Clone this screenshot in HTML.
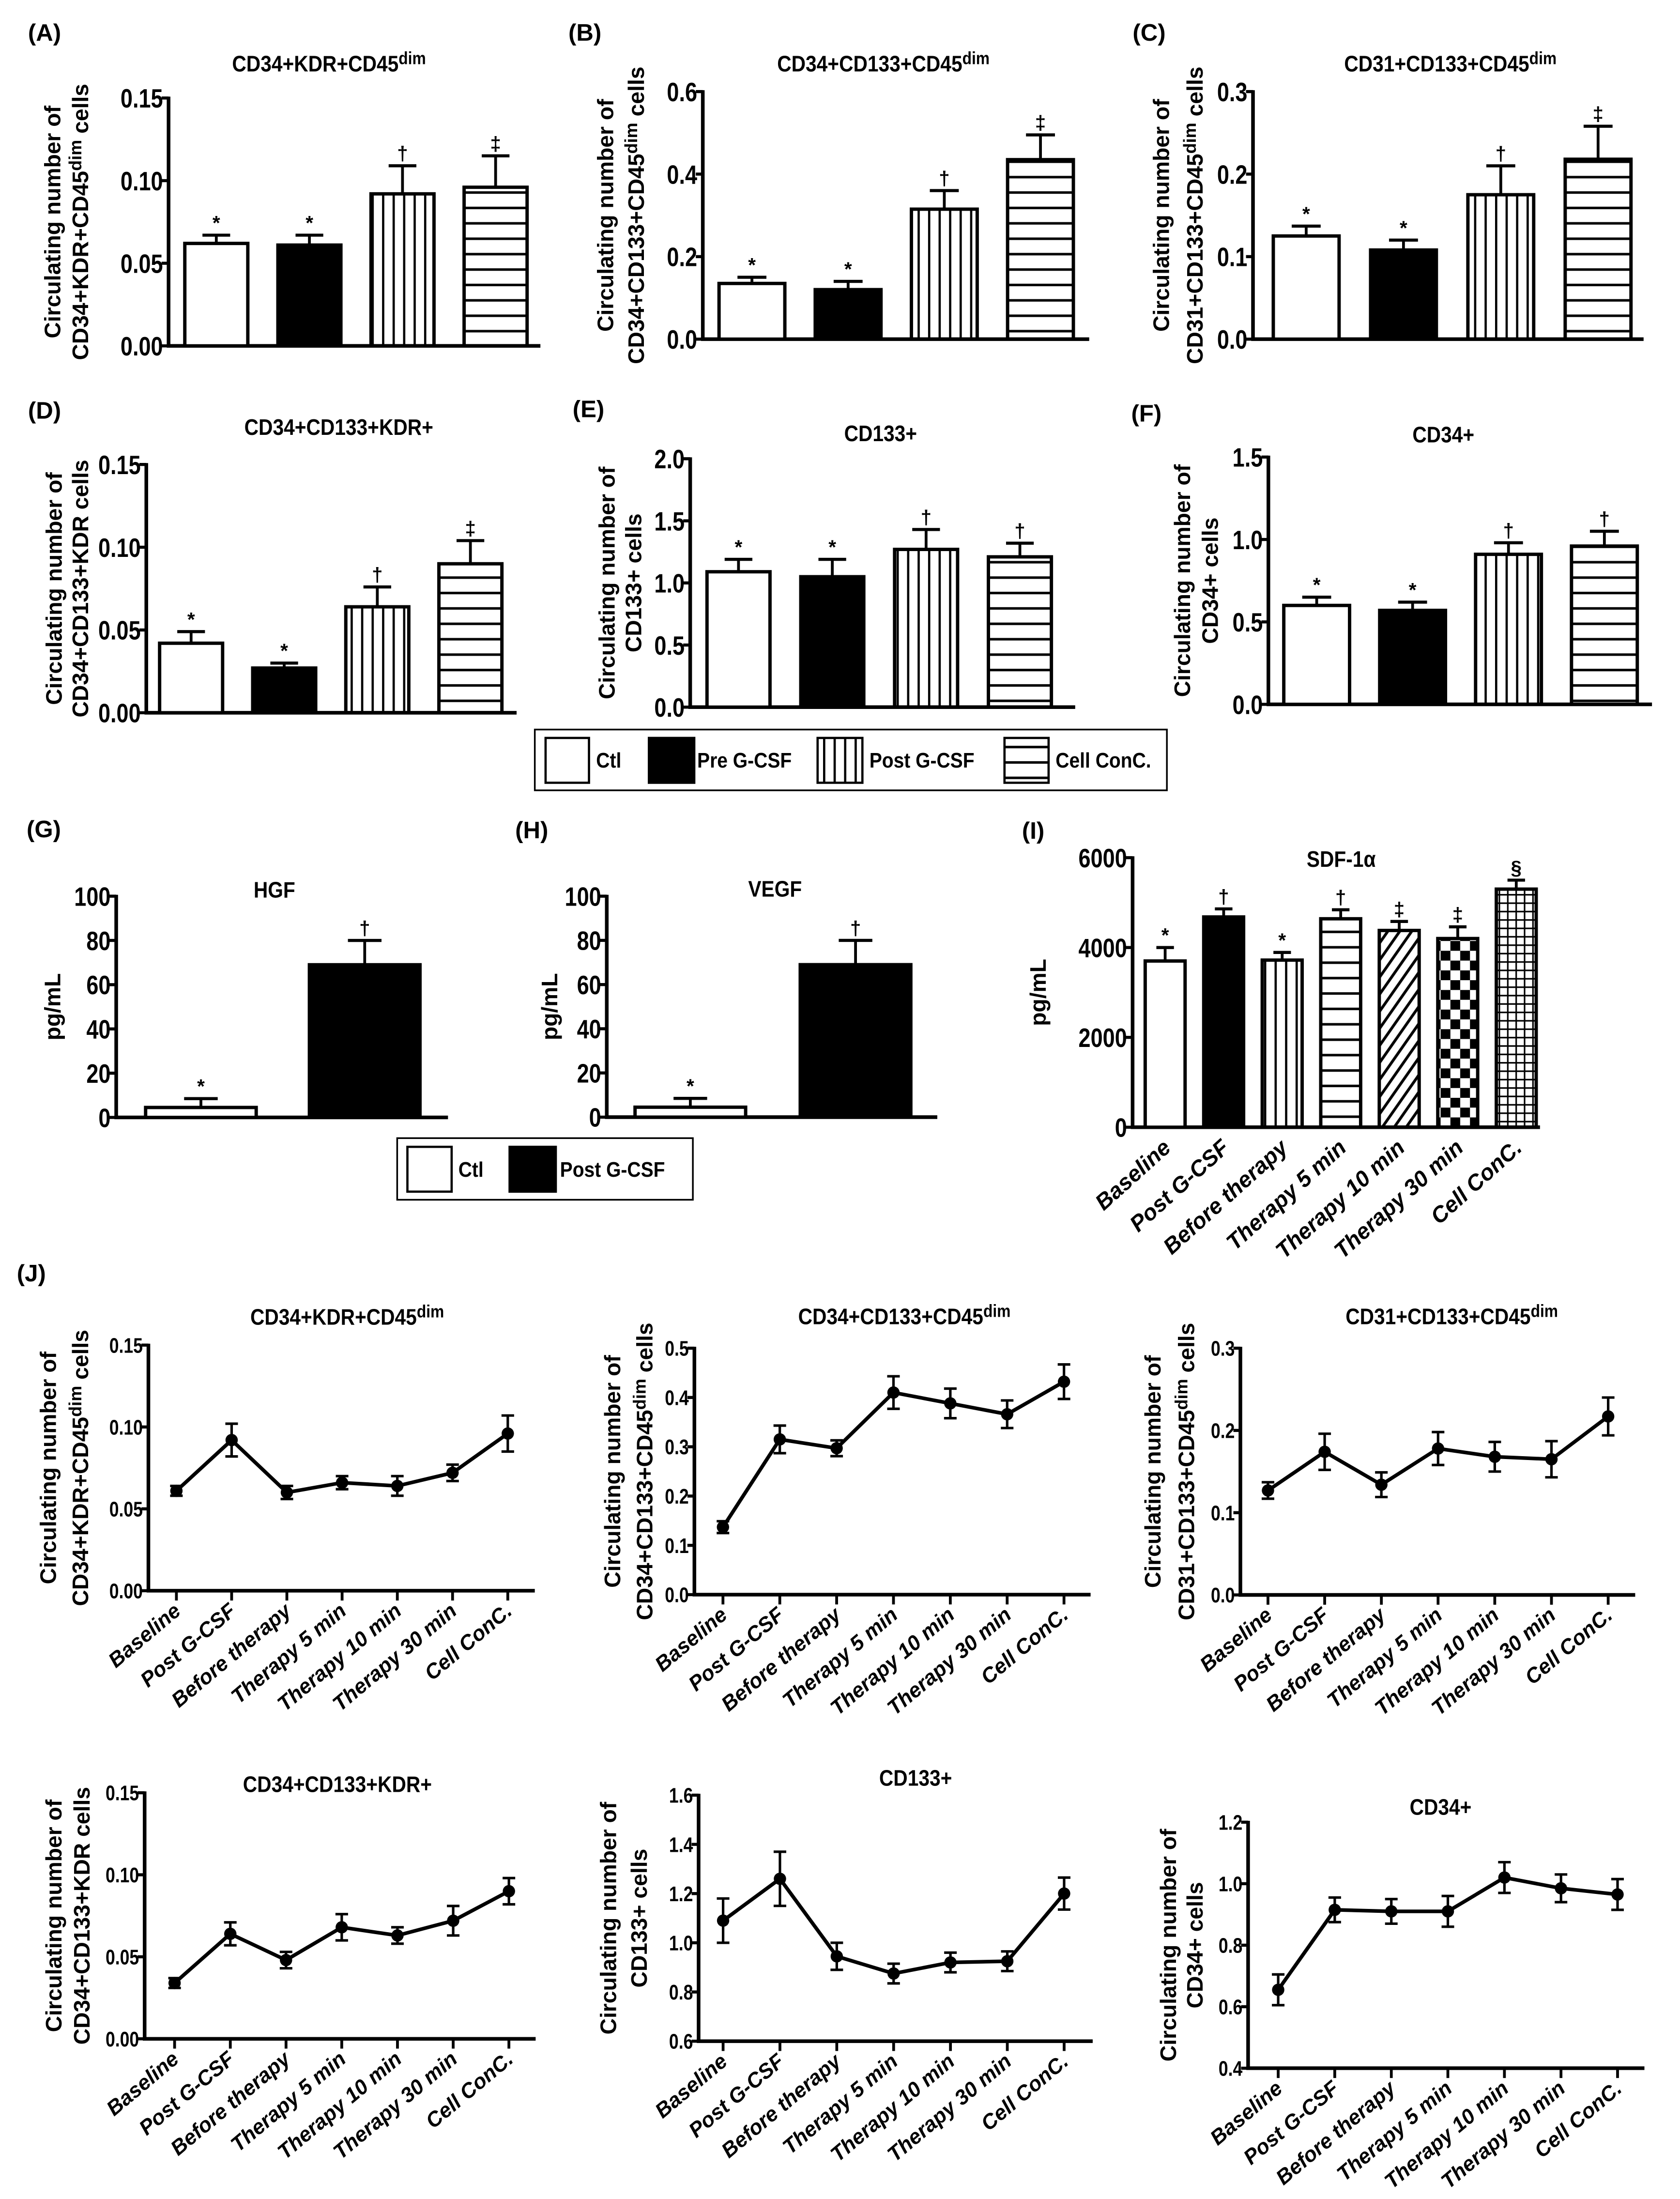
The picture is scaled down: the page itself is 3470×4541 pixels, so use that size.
<!DOCTYPE html>
<html><head><meta charset="utf-8"><style>
html,body{margin:0;padding:0;background:#fff}
svg{display:block}
text{font-family:"Liberation Sans",Arial,sans-serif;font-weight:bold;fill:#000}
</style></head><body>
<svg id="fig" xmlns="http://www.w3.org/2000/svg" width="3470" height="4541" viewBox="0 0 1200 1570.4">
<defs>
<pattern id="p-vert" patternUnits="userSpaceOnUse" width="7.5" height="10"><line x1="3.7" y1="0" x2="3.7" y2="10" stroke="#000" stroke-width="1.6"/></pattern>
<pattern id="p-hor" patternUnits="userSpaceOnUse" width="10" height="11"><line x1="0" y1="5.5" x2="10" y2="5.5" stroke="#000" stroke-width="1.8"/></pattern>
<pattern id="p-diag" patternUnits="userSpaceOnUse" width="7" height="7" patternTransform="rotate(35)"><line x1="3.5" y1="0" x2="3.5" y2="7" stroke="#000" stroke-width="2"/></pattern>
<pattern id="p-check" patternUnits="userSpaceOnUse" width="14" height="14"><rect width="7" height="7" fill="#000"/><rect x="7" y="7" width="7" height="7" fill="#000"/></pattern>
<pattern id="p-grid" patternUnits="userSpaceOnUse" width="6" height="6"><path d="M3 0V6M0 3H6" stroke="#000" stroke-width="1.1" fill="none"/></pattern>
</defs>
<g id="root"></g>
</svg>
<script>
// ---------- data ----------
const groups4 = ["Ctl","Pre G-CSF","Post G-CSF","Cell ConC."];
const timeCats = ["Baseline","Post G-CSF","Before therapy","Therapy 5 min","Therapy 10 min","Therapy 30 min","Cell ConC."];
const aVals=[0.062,0.061,0.092,0.096], aErrs=[0.005,0.006,0.017,0.019], aMarks=["*","*","†","‡"];
const bVals=[0.135,0.12,0.315,0.435], bErrs=[0.015,0.02,0.045,0.06], bMarks=["*","*","†","‡"];
const cVals=[0.125,0.108,0.175,0.218], cErrs=[0.012,0.012,0.035,0.04], cMarks=["*","*","†","‡"];
const dVals=[0.042,0.027,0.064,0.090], dErrs=[0.007,0.003,0.012,0.014], dMarks=["*","*","†","‡"];
const eVals=[1.09,1.05,1.27,1.21], eErrs=[0.1,0.14,0.16,0.11], eMarks=["*","*","†","†"];
const fVals=[0.60,0.57,0.91,0.96], fErrs=[0.05,0.05,0.07,0.09], fMarks=["*","*","†","†"];
const gVals=[4.5,69], gErrs=[4,11], gMarks=["*","†"];
const hVals=[4.5,69], hErrs=[4,11], hMarks=["*","†"];
const iVals=[3700,4680,3720,4640,4380,4200,5300], iErrs=[300,180,170,200,200,260,200], iMarks=["*","†","*","†","‡","‡","§"];
const j1Vals=[0.061,0.092,0.060,0.066,0.064,0.072,0.096], j1Errs=[0.003,0.010,0.004,0.004,0.006,0.005,0.011];
const j2Vals=[0.137,0.315,0.297,0.41,0.388,0.366,0.432], j2Errs=[0.012,0.028,0.016,0.033,0.03,0.028,0.035];
const j3Vals=[0.127,0.174,0.134,0.178,0.168,0.165,0.217], j3Errs=[0.01,0.022,0.015,0.02,0.018,0.022,0.023];
const j4Vals=[0.034,0.064,0.048,0.068,0.063,0.072,0.090], j4Errs=[0.003,0.007,0.005,0.008,0.005,0.009,0.008];
const j5Vals=[1.09,1.26,0.945,0.875,0.92,0.925,1.2], j5Errs=[0.09,0.11,0.055,0.04,0.04,0.04,0.065];
const j6Vals=[0.655,0.915,0.91,0.91,1.02,0.985,0.965], j6Errs=[0.05,0.04,0.04,0.05,0.05,0.045,0.05];
const ticksA=[0,0.05,0.10,0.15], ticksB=[0,0.2,0.4,0.6], ticksC=[0,0.1,0.2,0.3];
const ticksE=[0,0.5,1.0,1.5,2.0], ticksF=[0,0.5,1.0,1.5], ticksG=[0,20,40,60,80,100], ticksI=[0,2000,4000,6000];
const ticksJ2=[0,0.1,0.2,0.3,0.4,0.5], ticksJ5=[0.6,0.8,1.0,1.2,1.4,1.6], ticksJ6=[0.4,0.6,0.8,1.0,1.2];

// ---------- helpers ----------
const NS="http://www.w3.org/2000/svg";
const root=document.getElementById('root');
function mk(tag,attrs,parent){const e=document.createElementNS(NS,tag);for(const k in attrs)e.setAttribute(k,attrs[k]);(parent||root).appendChild(e);return e;}
function txt(x,y,s,size,parent,anchor,extra){const t=mk('text',Object.assign({x:x,y:y,'font-size':size,'text-anchor':anchor||'middle'},extra||{}),parent);t.textContent=s;return t;}
function richText(x,y,parts,size,parent,attrs){
  const t=mk('text',Object.assign({x:x,y:y,'font-size':size,'text-anchor':'middle'},attrs||{}),parent);
  parts.forEach(p=>{const ts=mk('tspan',{},t);ts.textContent=p.s;if(p.sup){ts.setAttribute('baseline-shift','40%');ts.setAttribute('font-size',size*0.78);}});
  return t;}
const fills=["#fff","#000","url(#p-vert)","url(#p-hor)"];
const fillsI=["#fff","#000","url(#p-vert)","url(#p-hor)","url(#p-diag)","url(#p-check)","url(#p-grid)"];

function yAxis(g,o,ticks){
  const sc=v=>o.y0-(v-o.min)/(o.max-o.min)*(o.y0-o.yt);
  const ax=mk('line',{x1:o.ax,y1:o.yt-1,x2:o.ax,y2:o.y0,stroke:'#000','stroke-width':2.6},g);
  
  
  const xl=mk('line',{x1:o.ax-1.3,y1:o.y0,x2:o.xEnd,y2:o.y0,stroke:'#000','stroke-width':2.6},g);
  
  
  const fs=o.tfs||19;
  ticks.forEach(v=>{
    const y=sc(v);
    mk('line',{x1:o.ax-5,y1:y,x2:o.ax,y2:y,stroke:'#000','stroke-width':2.2},g);
    const t=txt(o.ax-4,y+fs*0.36,v.toFixed(o.dec),fs,g,'end',{transform:`translate(${o.ax-4},${y}) scale(0.82,1) translate(${-(o.ax-4)},${-y})`});
    
    
  });
  return sc;
}
function ylabel(g,o){
  const cy=(o.y0+o.yt)/2;
  o.lab.forEach((parts,i)=>{
    const x=o.lx[i]+6;
    const t=richText(x,cy,parts,16,g,{transform:`rotate(-90 ${x} ${cy})`});
    
    
  });
}
function title(g,o){
  const t=richText(o.tx,o.ty,o.title,16,g,{transform:`translate(${o.tx},${o.ty}) scale(0.88,1) translate(${-o.tx},${-o.ty})`});
  
  
  if(o.pl){const p=txt(o.pl[0],o.pl[1],o.pl[2],17,g,'start');}
}
function barChart(o,vals,errs,marks,ticks,fl){
  const g=mk('g',{});
  
  
  title(g,o);ylabel(g,o);
  const sc=yAxis(g,o,ticks);
  vals.forEach((v,i)=>{
    const x=o.bx+i*o.step, y=sc(v), top=sc(v+errs[i]);
    const cx=x+o.bw/2;
    mk('line',{x1:cx,y1:y,x2:cx,y2:top,stroke:'#000','stroke-width':2},g);
    mk('line',{x1:cx-Math.min(o.bw*0.22,12),y1:top,x2:cx+Math.min(o.bw*0.22,12),y2:top,stroke:'#000','stroke-width':2.2},g);
    const r=mk('rect',{x:x,y:y,width:o.bw,height:o.y0-y,fill:fl[i],stroke:'#000','stroke-width':2.4},g);
    
    
    const m=txt(cx,top-4,marks[i],14,g,'middle',{'font-weight':'normal'});
    
    
    if(o.xlab){
      const lx=cx+5,ly=o.y0+16;
      const t=txt(lx,ly,o.cats[i],16,g,'end',{transform:`rotate(-42 ${lx} ${ly})`,'font-style':'italic'});
      
      
    }
  });
}
function lineChart(o,vals,errs,ticks){
  const g=mk('g',{});
  
  
  title(g,o);ylabel(g,o);
  const sc=yAxis(g,o,ticks);
  let d='';
  vals.forEach((v,i)=>{const x=o.px+i*o.step;d+=(i?'L':'M')+x+' '+sc(v);});
  const pl=mk('path',{d:d,fill:'none',stroke:'#000','stroke-width':2.6},g);
  
  
  vals.forEach((v,i)=>{
    const x=o.px+i*o.step,y=sc(v),t1=sc(v+errs[i]),t2=sc(v-errs[i]);
    mk('line',{x1:x,y1:o.y0,x2:x,y2:o.y0+7,stroke:'#000','stroke-width':2},g);
    mk('path',{d:`M${x} ${t1}V${t2}M${x-4.5} ${t1}H${x+4.5}M${x-4.5} ${t2}H${x+4.5}`,stroke:'#000','stroke-width':1.8,fill:'none'},g);
    const c=mk('circle',{cx:x,cy:y,r:4.4,fill:'#000'},g);
    
    
    const lx=x+4,ly=o.y0+16;
    const t=txt(lx,ly,timeCats[i],15,g,'end',{transform:`rotate(-40 ${lx} ${ly})`,'font-style':'italic'});
    
    
  });
}
function legend(x,y,w,h,sy,sh,items){
  const g=mk('g',{});
  
  
  mk('rect',{x:x,y:y,width:w,height:h,fill:'#fff',stroke:'#000','stroke-width':1.2},g);
  items.forEach(it=>{
    const r=mk('rect',{x:it.sx,y:sy,width:it.sw,height:sh,fill:it.f,stroke:'#000','stroke-width':1.6},g);
    
    
    const t=txt(it.tx,y+h/2+5.5,it.t,15,g,'start',{transform:`translate(${it.tx},0) scale(0.9,1) translate(${-it.tx},0)`});
    
    
  });
}
const S=s=>({s:s}),U=s=>({s:s,sup:true});
const labC=[S("Circulating number of")];

barChart({name:'panel-a',ax:120.4,y0:247,yt:70,min:0,max:0.15,dec:2,bx:132,bw:45,step:66.5,xEnd:386,tx:235,ty:51,cats:groups4,
  title:[S("CD34+KDR+CD45"),U("dim")],pl:[20,29,"(A)"],lab:[labC,[S("CD34+KDR+CD45"),U("dim"),S(" cells")]],lx:[37,57]},aVals,aErrs,aMarks,ticksA,fills);
barChart({name:'panel-b',ax:502,y0:242.2,yt:65.4,min:0,max:0.6,dec:1,bx:513.6,bw:47,step:68.7,xEnd:778,tx:631,ty:51,cats:groups4,
  title:[S("CD34+CD133+CD45"),U("dim")],pl:[406,29,"(B)"],lab:[labC,[S("CD34+CD133+CD45"),U("dim"),S(" cells")]],lx:[432,454]},bVals,bErrs,bMarks,ticksB,fills);
barChart({name:'panel-c',ax:895,y0:242.2,yt:65.4,min:0,max:0.3,dec:1,bx:909.5,bw:47,step:69.5,xEnd:1174,tx:1036,ty:51,cats:groups4,
  title:[S("CD31+CD133+CD45"),U("dim")],pl:[809,29,"(C)"],lab:[labC,[S("CD31+CD133+CD45"),U("dim"),S(" cells")]],lx:[829,853]},cVals,cErrs,cMarks,ticksC,fills);
barChart({name:'panel-d',ax:104.5,y0:509,yt:331.7,min:0,max:0.15,dec:2,bx:114,bw:45,step:66.5,xEnd:369,tx:242,ty:310.5,cats:groups4,
  title:[S("CD34+CD133+KDR+")],pl:[20,299,"(D)"],lab:[labC,[S("CD34+CD133+KDR cells")]],lx:[38,57]},dVals,dErrs,dMarks,ticksA,fills);
barChart({name:'panel-e',ax:493,y0:505,yt:327.6,min:0,max:2,dec:1,bx:505,bw:45,step:67,xEnd:768,tx:629,ty:315,cats:groups4,
  title:[S("CD133+")],pl:[409,298,"(E)"],lab:[labC,[S("CD133+ cells")]],lx:[433,452]},eVals,eErrs,eMarks,ticksE,fills);
barChart({name:'panel-f',ax:906,y0:503,yt:326.4,min:0,max:1.5,dec:1,bx:917,bw:47,step:68.5,xEnd:1180,tx:1031,ty:316,cats:groups4,
  title:[S("CD34+")],pl:[808,301,"(F)"],lab:[labC,[S("CD34+ cells")]],lx:[844,864]},fVals,fErrs,fMarks,ticksF,fills);
legend(382,521,451.5,43.4,527,32,[{sx:389.7,sw:31,f:'#fff',tx:425.8,t:'Ctl'},{sx:463.5,sw:32.4,f:'#000',tx:498,t:'Pre G-CSF'},{sx:584,sw:32,f:'url(#p-vert)',tx:621,t:'Post G-CSF'},{sx:717.5,sw:31.5,f:'url(#p-hor)',tx:754,t:'Cell ConC.'}]);
barChart({name:'panel-g',ax:83,y0:798,yt:640,min:0,max:100,dec:0,bx:104,bw:79,step:117,xEnd:320,tx:196,ty:641,cats:["Ctl","Post G-CSF"],
  title:[S("HGF")],pl:[19,598,"(G)"],lab:[[S("pg/mL")]],lx:[37]},gVals,gErrs,gMarks,ticksG,["#fff","#000"]);
barChart({name:'panel-h',ax:433.4,y0:797.8,yt:640,min:0,max:100,dec:0,bx:453.6,bw:79,step:118,xEnd:669.5,tx:553.6,ty:640.3,cats:["Ctl","Post G-CSF"],
  title:[S("VEGF")],pl:[368,598.6,"(H)"],lab:[[S("pg/mL")]],lx:[392]},hVals,hErrs,hMarks,ticksG,["#fff","#000"]);
legend(283.7,812.8,211.2,44,819,32,[{sx:291,sw:31.6,f:'#fff',tx:327.4,t:'Ctl'},{sx:364,sw:33,f:'#000',tx:400,t:'Post G-CSF'}]);
barChart({name:'panel-i',ax:809,y0:805,yt:612.5,min:0,max:6000,dec:0,bx:818,bw:28.5,step:41.8,xEnd:1100,tx:958,ty:619,cats:timeCats,xlab:true,
  title:[S("SDF-1α")],pl:[730,599,"(I)"],lab:[[S("pg/mL")]],lx:[741]},iVals,iErrs,iMarks,ticksI,fillsI);
{const t=txt(12,915,"(J)",17,root,'start');}
lineChart({name:'panel-j1',ax:106,y0:1136,yt:960.6,min:0,max:0.15,dec:2,tfs:15,px:126,step:39.45,xEnd:382,tx:248,ty:946,
  title:[S("CD34+KDR+CD45"),U("dim")],lab:[labC,[S("CD34+KDR+CD45"),U("dim"),S(" cells")]],lx:[34,57]},j1Vals,j1Errs,ticksA);
lineChart({name:'panel-j2',ax:496,y0:1138.8,yt:962.8,min:0,max:0.5,dec:1,tfs:15,px:516.4,step:40.6,xEnd:779,tx:646,ty:945.6,
  title:[S("CD34+CD133+CD45"),U("dim")],lab:[labC,[S("CD34+CD133+CD45"),U("dim"),S(" cells")]],lx:[437,460]},j2Vals,j2Errs,ticksJ2);
lineChart({name:'panel-j3',ax:886,y0:1139,yt:962.8,min:0,max:0.3,dec:1,tfs:15,px:905.7,step:40.5,xEnd:1168,tx:1037,ty:945.6,
  title:[S("CD31+CD133+CD45"),U("dim")],lab:[labC,[S("CD31+CD133+CD45"),U("dim"),S(" cells")]],lx:[823,847]},j3Vals,j3Errs,ticksC);
lineChart({name:'panel-j4',ax:103.3,y0:1456,yt:1280.3,min:0,max:0.15,dec:2,tfs:15,px:124.7,step:39.8,xEnd:382.6,tx:241,ty:1279.7,
  title:[S("CD34+CD133+KDR+")],lab:[labC,[S("CD34+CD133+KDR cells")]],lx:[38,58]},j4Vals,j4Errs,ticksA);
lineChart({name:'panel-j5',ax:499,y0:1457.7,yt:1282,min:0.6,max:1.6,dec:1,tfs:15,px:516.5,step:40.6,xEnd:780.5,tx:654,ty:1275.3,
  title:[S("CD133+")],lab:[labC,[S("CD133+ cells")]],lx:[434,456]},j5Vals,j5Errs,ticksJ5);
lineChart({name:'panel-j6',ax:891.5,y0:1477,yt:1301.3,min:0.4,max:1.2,dec:1,tfs:15,px:913,step:40.4,xEnd:1174.6,tx:1029,ty:1296,
  title:[S("CD34+")],lab:[labC,[S("CD34+ cells")]],lx:[834,853]},j6Vals,j6Errs,ticksJ6);
</script>
</body></html>
